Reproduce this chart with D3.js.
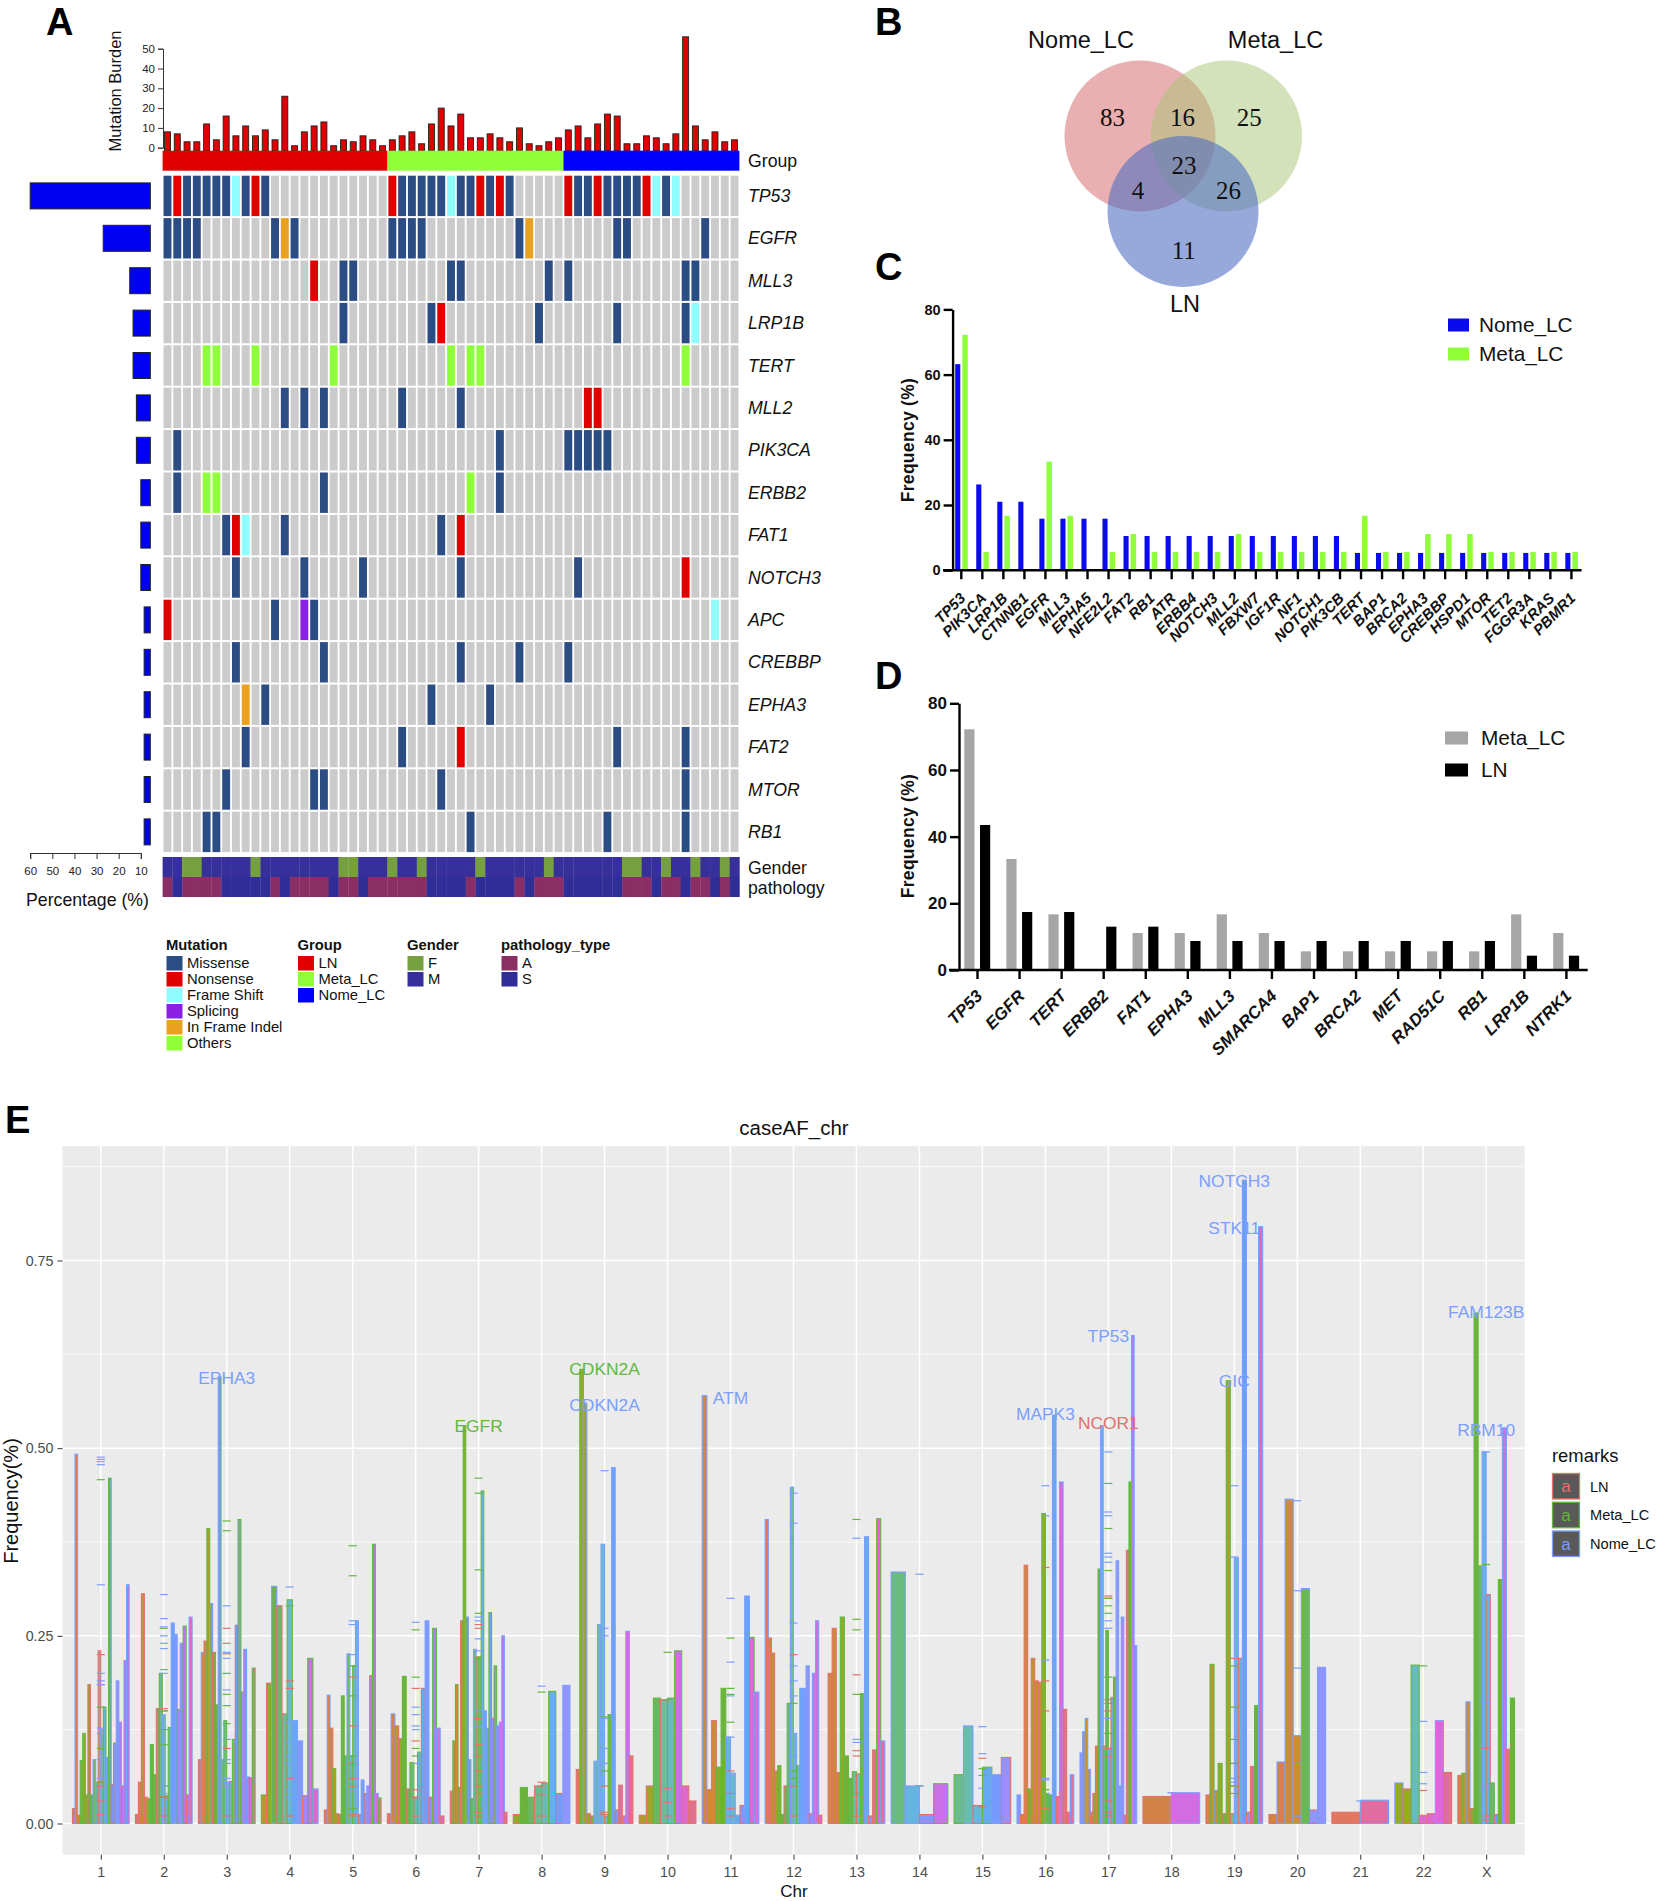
<!DOCTYPE html>
<html><head><meta charset="utf-8">
<script src="https://cdnjs.cloudflare.com/ajax/libs/d3/7.8.5/d3.min.js"></script>
<style>html,body{margin:0;padding:0;background:#fff}svg{display:block;font-family:"Liberation Sans",Arial,sans-serif}</style>
</head><body><svg id="c" width="1658" height="1901"></svg>
<script>
// ---------- Panel A data ----------
const groupNames = ["LN","Meta_LC","Nome_LC"];
const groupCounts = [23,18,18];
const burdenValues = [8,7,3,3,12,4,16,6,11,6,9,4,26,1,8,11,13,1,4,3,6,4,1,
  4,6,8,2,12,20,11,17,5,5,7,5,3,10,2,1,3,5,
  9,11,5,12,17,16,2,2,6,5,2,7,56,11,4,8,3,4];
const geneNames = ["TP53","EGFR","MLL3","LRP1B","TERT","MLL2","PIK3CA","ERBB2","FAT1","NOTCH3","APC","CREBBP","EPHA3","FAT2","MTOR","RB1"];
const genePercent = [60,27,15,13.5,13.5,12,12,10,10,10,8.5,8.5,8.5,8.5,8.5,8.5];
const missenseCols = [
 [0,2,3,4,5,6,8,10,24,25,26,27,28,30,31,33,35,42,43,45,46,47,48,51],
 [0,1,2,3,11,13,23,24,25,26,36,46,47,55],
 [18,19,29,30,39,41,53,54],
 [18,27,38,46,53],
 [],
 [12,14,16,24,30],
 [1,34,41,42,43,44,45],
 [1,16,34],
 [6,12,28],
 [7,14,20,30,42],
 [11,15],
 [7,16,30,36,41],
 [10,27,33],
 [8,24,46,53],
 [6,15,16,28,53],
 [4,5,31,45,53]];
const nonsenseCols = [[1,9,23,32,34,41,44,49],[],[15],[28],[],[43,44],[],[],[7,30],[53],[0],[],[],[30],[],[]];
const frameShiftCols = [[7,29,50,52],[],[],[54],[],[],[],[],[8],[],[56],[],[],[],[],[]];
const splicingCols = [[],[],[],[],[],[],[],[],[],[],[14],[],[],[],[],[]];
const indelCols = [[],[12,37],[],[],[],[],[],[],[],[],[],[],[8],[],[],[]];
const otherCols = [[],[],[],[],[4,5,9,17,29,31,32,53],[],[],[4,5,31],[],[],[],[],[],[],[],[]];
const femaleCols = [2,3,9,18,19,23,26,32,39,47,48,51,54,57];
const adenoCols = [0,2,3,4,5,11,13,14,15,16,18,19,21,22,23,24,25,26,31,36,38,39,40,47,48,49,51,52,54,55,57];
const percentTicks = [60,50,40,30,20,10];
const burdenTicks = [0,10,20,30,40,50];
const mutationLegend = ["Missense","Nonsense","Frame Shift","Splicing","In Frame Indel","Others"];
const genderLegend = ["F","M"];
const pathologyLegend = ["A","S"];

// ---------- Panel B data ----------
const vennSets = ["Nome_LC","Meta_LC","LN"];
const vennCounts = ["83","16","25","23","4","26","11"];

// ---------- Panel C data ----------
const genesC = ["TP53","PIK3CA","LRP1B","CTNNB1","EGFR","MLL3","EPHA5","NFE2L2","FAT2","RB1","ATR","ERBB4","NOTCH3","MLL2","FBXW7","IGF1R","NF1","NOTCH1","PIK3CB","TERT","BAP1","BRCA2","EPHA3","CREBBP","HSPD1","MTOR","TET2","FGGR3A","KRAS","PBMR1"];
const nomeC = [63.2,26.3,21,21,15.8,15.8,15.8,15.8,10.5,10.5,10.5,10.5,10.5,10.5,10.5,10.5,10.5,10.5,10.5,5.3,5.3,5.3,5.3,5.3,5.3,5.3,5.3,5.3,5.3,5.3];
const metaC = [72.2,5.6,16.7,0,33.3,16.7,0,5.6,11.1,5.6,5.6,5.6,5.6,11.1,5.6,5.6,5.6,5.6,5.6,16.7,5.6,5.6,11.1,11.1,11.1,5.6,5.6,5.6,5.6,5.6];

// ---------- Panel D data ----------
const genesD = ["TP53","EGFR","TERT","ERBB2","FAT1","EPHA3","MLL3","SMARCA4","BAP1","BRCA2","MET","RAD51C","RB1","LRP1B","NTRK1"];
const metaD = [72.2,33.3,16.7,0,11.1,11.1,16.7,11.1,5.6,5.6,5.6,5.6,5.6,16.7,11.1];
const lnD = [43.5,17.4,17.4,13,13,8.7,8.7,8.7,8.7,8.7,8.7,8.7,8.7,4.3,4.3];
const freqTicks = [0,20,40,60,80];

// ---------- Panel E data ----------
const chrNames = ["1","2","3","4","5","6","7","8","9","10","11","12","13","14","15","16","17","18","19","20","21","22","X"];
const barValues = [
 [.02,.492,.011,.084,.12,.038,.185,.038,.085,.055,.23,.125,.155,.088,.46,.052,.107,.19,.135,.05,.217,.318],
 [.012,.055,.306,.035,.033,.105,.065,.153,.2,.145,.037,.128,.267,.252,.152,.24,.263,.038,.275],
 [.085,.228,.243,.393,.293,.228,.158,.595,.085,.137,.055,.056,.112,.264,.405,.175,.232,.062,.061,.207],
 [.038,.187,.316,.29,.146,.298,.137,.11,.037,.22,.046],
 [.018,.171,.127,.073,.013,.012,.17,.09,.226,.09,.21,.27,.012,.058,.04,.05,.197,.372,.04,.034],
 [.013,.146,.13,.113,.196,.046,.081,.035,.095,.18,.27,.035,.26,.127,.01],
 [.043,.11,.185,.048,.27,.53,.275,.085,.033,.232,.222,.222,.443,.15,.127,.281,.14,.21,.13,.135,.25,.015],
 [.012,.048,.035,.05,.054,.176,.04,.184],
 [.072,.605,.56,.013,.01,.083,.265,.372,.01,.145,.474,.018,.051,.01,.256,.09],
 [.011,.05,.167,.165,.167,.23,.05,.03],
 [.57,.045,.137,.075,.18,.115,.067,.011,.024,.303,.248,.175],
 [.405,.247,.227,.07,.077,.012,.05,.16,.448,.12,.077,.18,.18,.21,.013,.2,.27,.011],
 [.2,.26,.068,.275,.09,.06,.069,.066,.173,.382,.01,.098,.406,.11],
 [.335,.05,.012,.053],
 [.065,.13,.024,.075,.065,.088],
 [.038,.012,.344,.046,.22,.19,.188,.413,.04,.038,.544,.036,.455,.152,.015,.065],
 [.094,.122,.14,.072,.015,.04,.103,.339,.53,.103,.257,.1,.168,.195,.35,.05,.275,.011,.364,.455,.65,.237],
 [.036,.041],
 [.038,.212,.044,.08,.013,.59,.013,.354,.22,.857,.015,.076,.157,.795],
 [.012,.082,.432,.117,.313,.018,.208],
 [.015,.031],
 [.054,.046,.211,.011,.013,.137,.068],
 [.064,.067,.162,.02,.68,.343,.495,.305,.054,.012,.325,.527,.099,.167]];
const barRemarks = ["rbrgggrgbbrbgbgrgbbrbb","rrrrrggrgbrgbbgbgrb","rbrgbrgbbgbrgrggbbrg","grbrrgbbrgb","rbrgrrggbbgbrbrbrgbg","rbrrgrgrgrbrgbr","rgggrgbbgbrggbbgrgbbbr","rggrrgrb","rgbrrbbbrgbrrrbr","rrgrggrr","brrggbbbrbgb","brrrggrgbbgbbbrbbr","rrrggggrgbrrgb","bbrg","gbrgbr","brrgrrrgbgbrbrrb","bbbbrrrgbrgbrgbbbrrgbb","rb","rgbgrgrbrbrrgb","rbbbbrb","rb","brgrrbr","rgbrggbrgrgbrg"];
const dashBlue = [
 [.488,.485,.478,.482,.318,.19,.185,.2,.127,.12,.085,.06],[.305,.273,.262,.25,.24,.233,.205,.2,.05,.04],[.29,.228,.22,.178,.112,.085,.08,.06,.055,.05],[.315,.135,.108,.09,.08,.045,.035],[.27,.265,.225,.045],[.268,.155,.145,.13,.125,.08],[.275,.27,.246,.23,.15,.13],[.183],[.47,.26,.25,.14,.1,.08],[],[.3,.215,.115,.17],[.44,.4,.267,.21,.19,.17,.09],[.38,.112,.108],[.332,.05],[.129,.093,.047],[.45,.41,.218,.06,.058,.04],[.495,.415,.41,.36,.355,.348,.27,.26,.14],[.041],[.45,.355,.06,.055],[.43,.31,.207,.08,.01],[.03],[.136,.068,.053],[.495,.3,.16,.05]];
const dashGreen = [
 [.458,.155,.1,.055],[.26,.15,.125,.105,.05,.035],[.403,.39,.2,.172,.157,.133],[.29],[.37,.33,.21,.17,.09,.02],[.258,.195,.09,.1],[.46,.44,.338,.28,.22],[.175],[.142,.07],[.228],[.247,.18,.172,.135],[.16,.07,.06],[.405,.272,.258,.172],[.05],[.073,.064],[.045],[.453,.393,.337,.3,.29,.28,.195,.12],[],[.21,.155,.112,.08,.05],[],[],[.21],[.345]];
const dashRed = [
 [.185,.225,.055,.05,.03,.012],[.153,.15,.036,.01],[.26,.24,.226,.05,.01,.1],[.19,.18,.06,.01],[.195,.13,.08,.06,.05,.012,.01],[.18,.11,.045,.035,.01],[.265,.26,.14,.105,.09,.07,.05,.04,.015,.01],[.055,.05,.038,.01],[.05,.015,.012],[.165,.047,.028,.01],[.07,.04,.02,.01],[.225,.05,.01],[.198,.097,.09,.04,.01],[],[.087,.022],[.341,.19,.15,.02],[.303,.3,.165,.16,.15,.1,.09,.03,.015,.01],[],[.22,.08,.05,.04],[],[],[.044],[.1,.05,.01,.005]];
const geneLabels = ["EPHA3","EGFR","CDKN2A","CDKN2A","ATM","MAPK3","NCOR1","TP53","NOTCH3","STK11","GIC","FAM123B","RBM10"];
const geneLabelChr = ["3","7","9","9","11","16","17","17","19","19","19","X","X"];
const geneLabelValues = [.593,.53,.605,.558,.567,.546,.533,.65,.856,.793,.589,.682,.524];
const geneLabelRemarks = ["b","g","g","b","b","b","r","b","b","b","b","b","b"];
const remarkNames = ["LN","Meta_LC","Nome_LC"];
const freqETicks = [0,.25,.5,.75];
const freqEMinor = [.125,.375,.625,.875];

// ---------- Styles ----------
const mutColor = {M:"#2c4c84",N:"#e00000",F:"#8ffcff",S:"#8a20e0",I:"#eaa020",O:"#8fff3a"};
const mutKeys = ["M","N","F","S","I","O"];
const mutTables = {M:missenseCols,N:nonsenseCols,F:frameShiftCols,S:splicingCols,I:indelCols,O:otherCols};
const groupColors = ["#e00000","#8fff3a","#0000ff"];
const remarkColor = {r:"#e2726c",g:"#62b83e",b:"#7b9eff"};
const fillStops = ["#e0705a","#c8882a","#8fa81c","#66b030","#62b560","#64bb9a","#5fb4dc","#609cff","#8c8eff","#b870f5","#dc60d8","#e0688a"];
const fillDomain = [0,.09,.18,.27,.36,.45,.54,.63,.72,.81,.9,1];
const chrFillRange = {"4":[.12,.93],"8":[.2,.72],"10":[.12,.9],"14":[.4,.85],"15":[.42,.72],"18":[.05,.87],"20":[.06,.72],"21":[0,.98],"22":[.18,.92]};
const fillOverride = {
 "9":{1:.17,2:.17,5:.5,6:.5,7:.52,9:.33,10:.62,12:.97,14:.9,15:1},
 "10":{0:.14,1:.16,2:.34,3:.45,4:.48,5:.86,6:.9,7:1},
 "11":{0:.07,1:.08,2:.09,3:.22,4:.27,5:.55,9:.62,10:.88,11:.85},
 "13":{0:.07,1:.09,2:.09,3:.2,4:.25,5:.3,8:.35,9:.58,11:1,12:.9,13:.98},
 "16":{0:.7,2:.07,3:.2,4:.1,5:.1,6:.1,7:.18,8:.3,9:.3,10:.6,11:1,12:.9,13:1,14:1,15:1},
 "17":{0:.72,1:.1,2:.1,3:.1,6:.09,7:.27,8:.55,10:.33,11:.55,13:.3,14:.72,16:.75,18:1,19:.25,20:.8,21:.8},
 "19":{0:.07,1:.12,2:.12,3:.18,5:.15,7:.55,8:.55,9:.63,11:.95,12:.27,13:.95},
 "20":{1:.05,2:.08,3:.09,4:.33,5:.72,6:.72},
 "22":{0:.18,1:.18,2:.5,3:.9,4:.9,5:.9,6:1},
 "X":{0:.06,1:.12,2:.09,4:.27,5:.38,6:.56,7:.56,8:.38,10:.27,11:.84,12:1,13:.27}
};

const svg = d3.select("#c");
const txt = (g,x,y,s,o={})=>{const t=g.append("text").attr("x",x).attr("y",y).text(s)
  .attr("font-size",o.size||17).attr("fill",o.fill||"#111").attr("text-anchor",o.anchor||"start");
  if(o.bold)t.attr("font-weight","bold"); if(o.italic)t.attr("font-style","italic");
  if(o.family)t.attr("font-family",o.family); if(o.rot!==undefined)t.attr("transform",`rotate(${o.rot},${x},${y})`);
  if(o.spacing)t.attr("letter-spacing",o.spacing);
  if(o.mid)t.attr("dy",".35em"); return t;};

// panel letters
[["A",46,35],["B",875,35],["C",875,280],["D",875,689],["E",5,1133]].forEach(d=>txt(svg,d[1],d[2],d[0],{size:38,bold:true,fill:"#000"}));

// ---------- A ----------
const A = svg.append("g");
const edge = d3.scaleLinear().domain([0,59]).range([162.6,739.4]);
const colX = d3.scaleBand().domain(d3.range(59)).range([162.6,739.4]).paddingInner(.19).paddingOuter(.095);
const rowY = d3.scaleBand().domain(geneNames).range([174.7,853.1]).paddingInner(.047).paddingOuter(.0235);
const burdenY = d3.scaleLinear().domain([0,50]).range([147.7,48.7]);

A.selectAll(".bb").data(burdenValues).join("rect").attr("x",(d,i)=>edge(i+.5)-3).attr("width",6)
 .attr("y",d=>burdenY(d)).attr("height",d=>burdenY(-1.6)-burdenY(d)).attr("fill","#e00000").attr("stroke","#222").attr("stroke-width",.9);
const ga = A.append("g").attr("transform","translate(163,0)").call(d3.axisLeft(burdenY).tickValues(burdenTicks).tickSize(5).tickPadding(3));
ga.selectAll("text").attr("font-size",11.5).attr("font-family","Liberation Sans").attr("fill","#222");
ga.selectAll("path,line").attr("stroke","#333");
txt(A,121,91,"Mutation Burden",{size:16.5,anchor:"middle",rot:-90});
let start=0;
groupCounts.forEach((n,k)=>{A.append("rect").attr("x",edge(start)).attr("width",edge(start+n)-edge(start)).attr("y",150.7).attr("height",20).attr("fill",groupColors[k]);start+=n;});
txt(A,748,161,"Group",{mid:true,size:17.7});

geneNames.forEach((g,r)=>{
  const row=A.append("g");
  const lookup={}; mutKeys.forEach(k=>mutTables[k][r].forEach(c=>lookup[c]=k));
  row.selectAll("rect").data(d3.range(59)).join("rect").attr("x",c=>colX(c)).attr("width",colX.bandwidth())
    .attr("y",rowY(g)).attr("height",rowY.bandwidth()).attr("fill",c=>lookup[c]?mutColor[lookup[c]]:"#cbcbcb");
  txt(A,748,rowY(g)+rowY.bandwidth()/2,g,{italic:true,mid:true,size:17.7});
});

const pctX = d3.scaleLinear().domain([10,60]).range([140.8,30.2]);
A.selectAll(".pb").data(genePercent).join("rect").attr("x",d=>pctX(d)).attr("width",d=>pctX(5.7)-pctX(d))
 .attr("y",(d,i)=>rowY(geneNames[i])+rowY.bandwidth()/2-13).attr("height",26)
 .attr("fill","#0000f0").attr("stroke","#222").attr("stroke-width",1);
const gp = A.append("g").attr("transform","translate(0,853)").call(d3.axisBottom(pctX).tickValues(percentTicks).tickSize(6).tickPadding(8));
gp.selectAll("text").attr("font-size",11.5).attr("font-family","Liberation Sans").attr("fill","#222");
gp.selectAll("path,line").attr("stroke","#333");
txt(A,87.5,906,"Percentage (%)",{size:17.7,anchor:"middle"});

const femaleSet=new Set(femaleCols), adenoSet=new Set(adenoCols);
d3.range(59).forEach(i=>{
  A.append("rect").attr("x",edge(i)).attr("width",edge(1)-edge(0)+.3).attr("y",857).attr("height",20).attr("fill",femaleSet.has(i)?"#76a040":"#38309a");
  A.append("rect").attr("x",edge(i)).attr("width",edge(1)-edge(0)+.3).attr("y",877).attr("height",20).attr("fill",adenoSet.has(i)?"#8a2e66":"#2e2e96");
});
txt(A,748,868,"Gender",{mid:true,size:17.7}); txt(A,748,888,"pathology",{mid:true,size:17.7});

// A legends
const legendRows=d3.scaleLinear().domain([0,5]).range([963,1043]);
function legend(title,x,names,cols){
  txt(A,x-.5,950,title,{size:14.8,bold:true});
  names.forEach((n,i)=>{A.append("rect").attr("x",x).attr("y",legendRows(i)-7).attr("width",16).attr("height",14.5).attr("fill",cols[i]);
    txt(A,x+20.5,legendRows(i),n,{size:14.8,mid:true});});
}
legend("Mutation",166.5,mutationLegend,mutKeys.map(k=>mutColor[k]));
legend("Group",298,groupNames,groupColors);
legend("Gender",407.5,genderLegend,["#76a040","#38309a"]);
legend("pathology_type",501.5,pathologyLegend,["#8a2e66","#2e2e96"]);

// ---------- B ----------
const B=svg.append("g");
[[1140,136,"#d2545a",.47],[1226.5,136,"#a7c577",.5],[1183,211.5,"#5270c1",.6]].forEach(c=>
  B.append("circle").attr("cx",c[0]).attr("cy",c[1]).attr("r",75.5).attr("fill",c[2]).attr("fill-opacity",c[3]));
[[1081,48],[1275.5,48],[1185,312]].forEach((p,i)=>txt(B,p[0],p[1],vennSets[i],{size:23.5,anchor:"middle"}));
[[1112.4,117.6],[1182.6,117.6],[1249.3,117.6],[1184,165.3],[1137.9,190.6],[1228.4,190.6],[1183.7,250.2]].forEach((p,i)=>
  txt(B,p[0],p[1],vennCounts[i],{size:25,anchor:"middle",family:"Liberation Serif",mid:true}));

// ---------- C & D ----------
function barPanel(o){
  const g=svg.append("g");
  const y=d3.scaleLinear().domain([0,80]).range(o.yRange);
  const x=d3.scalePoint().domain(o.genes).range(o.xRange);
  o.series.forEach(s=>g.selectAll(null).data(s.values).join("rect")
    .attr("x",(d,i)=>x(o.genes[i])+s.off).attr("width",s.w).attr("y",d=>y(d)).attr("height",d=>y(0)-y(d)).attr("fill",s.color));
  const ay=g.append("g").attr("transform",`translate(${o.axisX},0)`).call(d3.axisLeft(y).tickValues(freqTicks).tickSize(9).tickPadding(3).tickSizeOuter(0));
  ay.selectAll("text").attr("font-size",o.tickSize).attr("font-weight","bold").attr("font-family","Liberation Sans").attr("fill","#111");
  ay.selectAll("line,path").attr("stroke","#000").attr("stroke-width",2.4);
  const ax=g.append("g").attr("transform",`translate(0,${o.yRange[0]})`).call(d3.axisBottom(x).tickSize(9).tickSizeOuter(0));
  ax.select("path").attr("d",`M${o.xLine[0]},0H${o.xLine[1]}`);
  ax.selectAll("line,path").attr("stroke","#000").attr("stroke-width",2.4);
  ax.selectAll("text").attr("font-size",o.labelSize).attr("font-weight","bold").attr("font-style","italic").attr("font-family","Liberation Sans").attr("fill","#111")
    .attr("text-anchor","end").attr("dy",0).attr("x",0).attr("y",0).attr("transform",`translate(${o.labelOff[0]},${o.labelOff[1]}) rotate(-45)`);
  txt(g,914,o.titleY,"Frequency (%)",{size:17.5,bold:true,anchor:"middle",rot:-90,spacing:.3});
  o.series.forEach((s,i)=>{
    const ly=o.legendY[i];
    g.append("rect").attr("x",o.legX).attr("y",ly-6.5).attr("width",o.legW).attr("height",13).attr("fill",s.color);
    txt(g,o.legTx,ly,s.name,{size:20.8,mid:true});
  });
}
barPanel({genes:genesC,xRange:[960.8,1570.9],yRange:[570.2,309.4],axisX:952.6,xLine:[943,1581.6],tickSize:14.5,labelSize:15,labelOff:[5,29],titleY:440,
 legX:1448,legW:21,legTx:1479,legendY:[325,354],
 series:[{name:"Nome_LC",values:nomeC,color:"#0a0aee",off:-5.6,w:5.1},{name:"Meta_LC",values:metaC,color:"#8fff3a",off:1.5,w:5.5}]});
barPanel({genes:genesD,xRange:[977,1565.9],yRange:[970,703.3],axisX:959,xLine:[949,1587.7],tickSize:17,labelSize:17,labelOff:[6,27],titleY:836,
 legX:1445,legW:23,legTx:1481,legendY:[738,770],
 series:[{name:"Meta_LC",values:metaD,color:"#a6a6a6",off:-12.7,w:10.2},{name:"LN",values:lnD,color:"#000",off:3,w:10.2}]});

// ---------- E ----------
const E=svg.append("g");
const ex=d3.scalePoint().domain(chrNames).range([100.8,1486.2]);
const ey=d3.scaleLinear().domain([0,.75]).range([1823.5,1260.5]);
const panel={x0:62.5,x1:1524.7,y0:1146,y1:1854.7};
E.append("rect").attr("x",panel.x0).attr("y",panel.y0).attr("width",panel.x1-panel.x0).attr("height",panel.y1-panel.y0).attr("fill","#ebebeb");
E.selectAll(".mn").data(freqEMinor).join("line").attr("x1",panel.x0).attr("x2",panel.x1).attr("y1",ey).attr("y2",ey).attr("stroke","#fff").attr("stroke-width",.8);
E.selectAll(".mj").data(freqETicks).join("line").attr("x1",panel.x0).attr("x2",panel.x1).attr("y1",ey).attr("y2",ey).attr("stroke","#fff").attr("stroke-width",1.5);
E.selectAll(".v").data(chrNames).join("line").attr("x1",d=>ex(d)).attr("x2",d=>ex(d)).attr("y1",panel.y0).attr("y2",panel.y1).attr("stroke","#fff").attr("stroke-width",1.5);
const ramp=d3.scaleLinear().domain(fillDomain).range(fillStops);
const halfW=.45*ex.step();
chrNames.forEach((c,ci)=>{
  const vals=barValues[ci], n=vals.length;
  const sx=d3.scaleBand().domain(d3.range(n)).range([ex(c)-halfW,ex(c)+halfW]);
  const fr=chrFillRange[c]||[0,.94];
  const ov=fillOverride[c]||{};
  E.append("g").selectAll("rect").data(vals).join("rect")
   .attr("x",(d,i)=>sx(i)).attr("width",sx.bandwidth()).attr("y",d=>ey(d)).attr("height",d=>ey(0)-ey(d))
   .attr("fill",(d,i)=>ramp(ov[i]!==undefined?ov[i]:fr[0]+(fr[1]-fr[0])*(n>1?i/(n-1):0))).attr("fill-opacity",.95)
   .attr("stroke",(d,i)=>remarkColor[barRemarks[ci][i]]).attr("stroke-width",1.1);
  [[dashRed,"r"],[dashGreen,"g"],[dashBlue,"b"]].forEach(([arr,k])=>{
    E.append("g").selectAll("line").data(arr[ci]).join("line")
     .attr("x1",ex(c)-4).attr("x2",ex(c)+4).attr("y1",d=>ey(d)).attr("y2",d=>ey(d))
     .attr("stroke",remarkColor[k]).attr("stroke-width",1.2);
  });
});
geneLabels.forEach((t,i)=>txt(E,ex(geneLabelChr[i]),ey(geneLabelValues[i]),t,{size:17.4,anchor:"middle",fill:remarkColor[geneLabelRemarks[i]],mid:true}));
const ay=E.append("g").attr("transform",`translate(${panel.x0},0)`).call(d3.axisLeft(ey).tickValues(freqETicks).tickFormat(d3.format(".2f")).tickSize(5).tickPadding(4));
ay.select("path").remove();
ay.selectAll("line").attr("stroke","#333");
ay.selectAll("text").attr("font-size",14.3).attr("font-family","Liberation Sans").attr("fill","#4d4d4d");
const ax=E.append("g").attr("transform",`translate(0,${panel.y1})`).call(d3.axisBottom(ex).tickSize(5).tickPadding(7));
ax.select("path").remove();
ax.selectAll("line").attr("stroke","#333");
ax.selectAll("text").attr("font-size",14.3).attr("font-family","Liberation Sans").attr("fill","#4d4d4d");
txt(E,794,1135,"caseAF_chr",{size:20.5,anchor:"middle"});
txt(E,794,1897,"Chr",{size:17,anchor:"middle"});
txt(E,18,1501,"Frequency(%)",{size:20,anchor:"middle",rot:-90});
txt(E,1552,1462,"remarks",{size:18.4});
const keyY=d3.scaleLinear().domain([0,2]).range([1473.5,1531]);
remarkNames.forEach((n,i)=>{
  const k=["r","g","b"][i];
  E.append("rect").attr("x",1552.5).attr("y",keyY(i)).attr("width",27).attr("height",25.5).attr("fill","#595959").attr("stroke",remarkColor[k]).attr("stroke-width",1.3);
  txt(E,1566,keyY(i)+13,"a",{size:17,anchor:"middle",fill:remarkColor[k],mid:true});
  txt(E,1590,keyY(i)+13,n,{size:14.6,mid:true});
});
</script></body></html>
